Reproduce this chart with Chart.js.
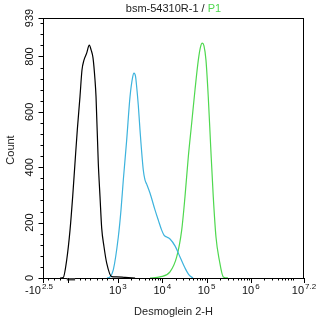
<!DOCTYPE html>
<html>
<head>
<meta charset="utf-8">
<script src="https://cdn.jsdelivr.net/npm/chart.js@4/dist/chart.umd.min.js"></script>
<style>
  html, body { margin: 0; padding: 0; background: #fff; }
  #wrap { width: 318px; height: 321px; }
</style>
</head>
<body>
<div id="wrap"><canvas id="histo"></canvas></div>
<script>
// x values are in display decades of the cytometer axis (biexponential below 10^3)
const xMin = 1.308;
const xMax = 7.2;
const xMajorTicks = [1.308, 3, 4, 5, 6, 7.2];
const xTickBase = ['-10', '10', '10', '10', '10', '10'];
const xTickExp = ['2.5', '3', '4', '5', '6', '7.2'];
// minor ticks in the linear part near zero
const xLinearMinor = [1.43, 1.558, 1.694, 2.145, 2.258, 2.371, 2.522, 2.635, 2.748, 2.883];
const xZeroBand = [1.845, 2.032];

const yMax = 939;
const yMajorTicks = [0, 200, 400, 600, 800, 939];
const yMinorTicks = [40, 80, 120, 160, 240, 280, 320, 360, 440, 480, 520, 560, 640, 680, 720, 760, 840, 880, 920];

// isotype control (black)
const blackX = [1.692, 1.766, 1.843, 1.918, 1.978, 2.030, 2.082, 2.143, 2.188, 2.233, 2.294, 2.353, 2.395, 2.437, 2.482, 2.505, 2.556, 2.595, 2.633, 2.685, 2.746, 2.859, 2.970, 3.161, 3.387];
const blackY = [0, 2, 65, 173, 294, 415, 534, 655, 751, 787, 812, 841, 823, 795, 715, 655, 415, 294, 180, 113, 54, 5, 4, 2, 0];

// bsm-54310R-1 (cyan)
const cyanX = [2.753, 2.821, 2.895, 3.008, 3.069, 3.121, 3.197, 3.272, 3.333, 3.362, 3.396, 3.423, 3.459, 3.498, 3.572, 3.610, 3.649, 3.723, 3.836, 3.911, 3.987, 4.039, 4.100, 4.175, 4.288, 4.401, 4.514, 4.604, 4.694];
const cyanY = [0, 4, 29, 148, 246, 354, 498, 654, 726, 740, 729, 690, 625, 534, 390, 354, 339, 307, 246, 209, 173, 155, 148, 141, 116, 76, 36, 11, 0];

// P1 (green)
const greenX = [3.723, 3.949, 4.175, 4.326, 4.439, 4.513, 4.588, 4.665, 4.739, 4.814, 4.863, 4.904, 4.942, 4.987, 5.039, 5.094, 5.152, 5.213, 5.288, 5.378, 5.484];
const greenY = [0, 4, 22, 76, 173, 293, 437, 560, 679, 787, 834, 848, 838, 787, 654, 473, 293, 148, 65, 4, 0];

const FONT = '"Liberation Sans", Arial, sans-serif';
const CYAN = '#3db3dd';
const GREEN = '#4fd84f';

function toPoints(xs, ys) {
    return xs.map(function(v, i) { return { x: v, y: ys[i] }; });
}

function series(xs, ys, color) {
    return {
        data: toPoints(xs, ys),
        borderColor: color,
        borderWidth: 1.2,
        pointRadius: 0,
        fill: false,
        cubicInterpolationMode: 'monotone'
    };
}

// frame, ticks, labels and titles
const axesPlugin = {
    id: 'cytoAxes',
    afterDraw: function(chart) {
        const ctx = chart.ctx;
        const a = chart.chartArea;
        const xs = chart.scales.x;
        const ys = chart.scales.y;
        ctx.save();
        ctx.strokeStyle = '#000';
        ctx.lineWidth = 1;
        ctx.strokeRect(a.left + 0.5, a.top + 0.5, a.right - a.left - 1, a.bottom - a.top);

        function xTick(v, len) {
            const px = Math.round(xs.getPixelForValue(v)) + 0.5;
            ctx.beginPath();
            ctx.moveTo(px, a.bottom);
            ctx.lineTo(px, a.bottom + len);
            ctx.stroke();
        }
        function yTick(v, len) {
            const py = Math.round(ys.getPixelForValue(v)) + 0.5;
            ctx.beginPath();
            ctx.moveTo(a.left, py);
            ctx.lineTo(a.left - len, py);
            ctx.stroke();
        }

        xMajorTicks.forEach(function(v) { xTick(v, 5); });
        xLinearMinor.forEach(function(v) { xTick(v, 2.5); });
        for (let d = 3; d < 7.2; d++) {
            for (let k = 2; k <= 9; k++) {
                const v = d + Math.log10(k);
                if (v < xMax) xTick(v, 2.5);
            }
        }
        // dense ticks around zero
        const z0 = xs.getPixelForValue(xZeroBand[0]);
        const z1 = xs.getPixelForValue(xZeroBand[1]);
        ctx.fillStyle = '#444';
        ctx.fillRect(z0, a.bottom, z1 - z0, 2.5);
        xTick(xZeroBand[0] + 0.03, 5);

        yMajorTicks.forEach(function(v) { yTick(v, 4.5); });
        yMinorTicks.forEach(function(v) { yTick(v, 2.5); });

        // x tick labels with exponents
        ctx.fillStyle = '#111';
        ctx.textBaseline = 'alphabetic';
        xMajorTicks.forEach(function(v, i) {
            ctx.font = '11px ' + FONT;
            const wb = ctx.measureText(xTickBase[i]).width;
            ctx.font = '8px ' + FONT;
            const we = ctx.measureText(xTickExp[i]).width;
            let left = xs.getPixelForValue(v) - (wb + we + 1) / 2;
            if (i === 0) left -= 4;
            ctx.font = '11px ' + FONT;
            ctx.textAlign = 'left';
            ctx.fillText(xTickBase[i], left, 294);
            ctx.font = '8px ' + FONT;
            ctx.fillText(xTickExp[i], left + wb + 1, 289);
        });

        // y tick labels, rotated
        ctx.font = '11px ' + FONT;
        ctx.textAlign = 'center';
        ctx.textBaseline = 'middle';
        yMajorTicks.forEach(function(v) {
            ctx.save();
            ctx.translate(30, ys.getPixelForValue(v));
            ctx.rotate(-Math.PI / 2);
            ctx.fillText(String(v), 0, 0);
            ctx.restore();
        });

        // axis titles
        ctx.fillStyle = '#222';
        ctx.save();
        ctx.translate(10.5, 150);
        ctx.rotate(-Math.PI / 2);
        ctx.fillText('Count', 0, 0);
        ctx.restore();
        ctx.fillText('Desmoglein 2-H', (a.left + a.right) / 2, 312);

        // chart title in two colours
        const t1 = 'bsm-54310R-1 / ';
        const t2 = 'P1';
        const w1 = ctx.measureText(t1).width;
        const w2 = ctx.measureText(t2).width;
        const tl = (a.left + a.right) / 2 - (w1 + w2) / 2;
        ctx.textAlign = 'left';
        ctx.fillText(t1, tl, 8.5);
        ctx.fillStyle = GREEN;
        ctx.fillText(t2, tl + w1, 8.5);
        ctx.restore();
    }
};

new Chart(document.getElementById('histo'), {
    type: 'line',
    data: {
        datasets: [
            series(blackX, blackY, '#000000'),
            series(cyanX, cyanY, CYAN),
            series(greenX, greenY, GREEN)
        ]
    },
    options: {
        responsive: true,
        maintainAspectRatio: false,
        animation: false,
        layout: { padding: { top: 18, right: 14, left: 0, bottom: 0 } },
        plugins: {
            legend: { display: false },
            tooltip: { enabled: false },
            title: { display: false }
        },
        scales: {
            x: {
                type: 'linear',
                min: xMin,
                max: xMax,
                grid: { display: false },
                border: { display: false },
                ticks: { display: false },
                afterFit: function(scale) { scale.height = 43; }
            },
            y: {
                min: 0,
                max: yMax,
                grid: { display: false },
                border: { display: false },
                ticks: { display: false },
                afterFit: function(scale) { scale.width = 43; }
            }
        }
    },
    plugins: [axesPlugin]
});
</script>
</body>
</html>
